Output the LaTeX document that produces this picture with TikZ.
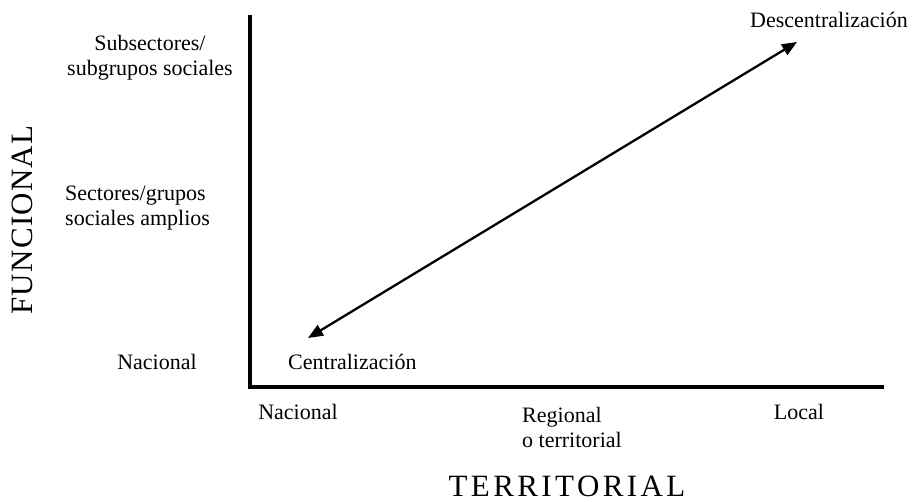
\documentclass[tikz,border=0pt]{standalone}
\usepackage{fontspec}
\setmainfont{Liberation Serif}
\usetikzlibrary{arrows.meta}
\begin{document}
\begin{tikzpicture}[x=1pt,y=-1pt,
  lbl/.style={inner sep=0pt,font=\fontsize{22}{25}\selectfont},
  big/.style={inner sep=0pt,font=\fontsize{31}{34}\selectfont\addfontfeatures{LetterSpace=11}},
  bigv/.style={inner sep=0pt,font=\fontsize{31}{34}\selectfont\addfontfeatures{LetterSpace=4}},
  axis/.style={line width=3.5pt,line cap=rect},
  dual/.style={line width=2.3pt,{Triangle[length=15pt,width=12pt]}-{Triangle[length=15pt,width=12pt]}}]
\useasboundingbox (0,0) rectangle (914,502);
\coordinate (top) at (250,17);
\coordinate (origin) at (250,387);
\coordinate (right) at (882,387);
\draw[axis] (top) -- (origin) -- (right);
\coordinate (lo) at (308,338);
\coordinate (hi) at (797,42);
\draw[dual] (lo) -- (hi);
\node[lbl,align=center] (subs) at (150,58) {Subsectores/\\subgrupos sociales};
\node[lbl,align=left,anchor=west] (sect) at (65,208) {Sectores/grupos\\sociales amplios};
\node[lbl] (nacl) at (157,362) {Nacional};
\node[lbl,anchor=west] (cent) at (288,362) {Centralización};
\node[lbl] (desc) at (829,20) {Descentralización};
\node[lbl] (nacb) at (298,412) {Nacional};
\node[lbl,align=left,anchor=west] (reg) at (522,427) {Regional\\o territorial};
\node[lbl] (loc) at (799,412) {Local};
\node[big] (terr) at (567,486) {TERRITORIAL};
\node[bigv,rotate=90] (func) at (22,220) {FUNCIONAL};
\end{tikzpicture}
\end{document}
